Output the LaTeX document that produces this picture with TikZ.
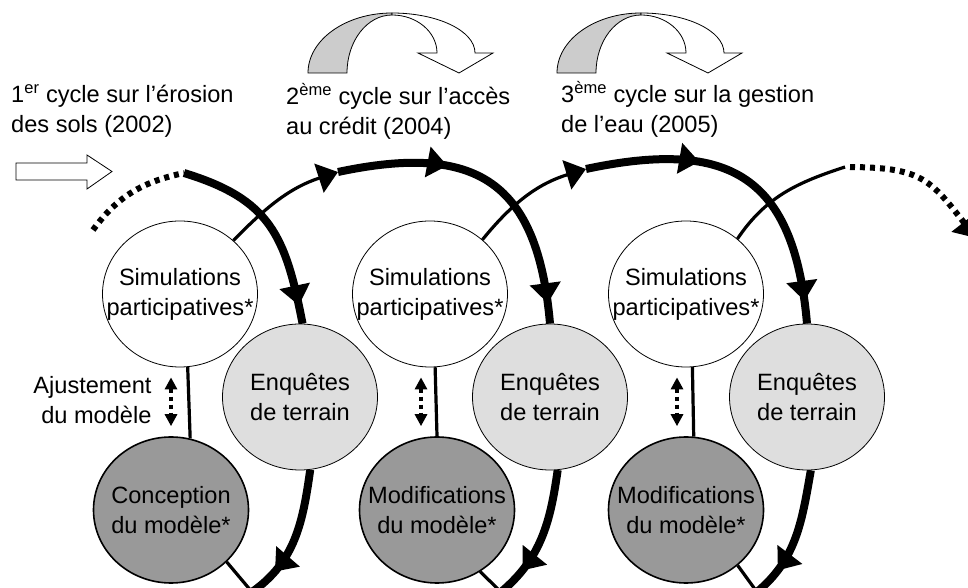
\documentclass[tikz,border=0pt]{standalone}
\usepackage{fontspec}
\setmainfont{Liberation Sans}
\usetikzlibrary{shapes.geometric, arrows.meta, decorations.markings, backgrounds}

\definecolor{enqgray}{gray}{0.87}
\definecolor{modgray}{gray}{0.6}
\definecolor{bandgray}{gray}{0.8}

\tikzset{
  bigtip/.tip={Triangle[width=30pt,length=20pt]},
  smalltip/.tip={Triangle[width=12pt,length=12pt]},
  cyclenode/.style={draw, ellipse, minimum width=155pt, minimum height=146pt, inner xsep=-20pt, inner ysep=0pt, align=center,
    execute at begin node={\rule{0pt}{26pt}}},
  simnode/.style={cyclenode, fill=white, line width=0.8pt},
  enqnode/.style={cyclenode, fill=enqgray, line width=0.8pt},
  modnode/.style={cyclenode, fill=modgray, line width=1.6pt},
  thinline/.style={line width=3.2pt},
  thickline/.style={line width=8pt},
  dotline/.style={line width=6pt, dash pattern=on 5pt off 5pt},
  adjust/.style={line width=4pt, dash pattern=on 4pt off 4pt, arrows={smalltip-smalltip}, shorten <=10pt, shorten >=10pt},
  midarrow/.style={postaction={decorate, decoration={markings, mark=at position #1 with {\arrow{bigtip}}}}},
  toplabel/.style={anchor=base west, align=left, inner sep=0pt}
}

\begin{document}
\begin{tikzpicture}[x=1pt, y=1pt, font=\fontsize{23.6}{30}\selectfont]
\useasboundingbox (0,0) rectangle (968,588);

% the three cycles
\node (sim1) [simnode] at (180,294) {Simulations\\participatives*};
\node (enq1) [enqnode] at (300,191) {Enquêtes\\de terrain};
\node (con1) [modnode] at (171,78) {Conception\\du modèle*};
\node (sim2) [simnode] at (430,294) {Simulations\\participatives*};
\node (enq2) [enqnode] at (550,191) {Enquêtes\\de terrain};
\node (mod2) [modnode] at (437,78) {Modifications\\du modèle*};
\node (sim3) [simnode] at (686,294) {Simulations\\participatives*};
\node (enq3) [enqnode] at (807,191) {Enquêtes\\de terrain};
\node (mod3) [modnode] at (686,78) {Modifications\\du modèle*};

\node (adjlabel) [anchor=east, align=right] at (155,188) {Ajustement\\du modèle};

\node (lab1) [toplabel] at (11,455) {1\textsuperscript{er} cycle sur l’érosion\\des sols (2002)};
\node (lab2) [toplabel] at (286,453) {2\textsuperscript{ème} cycle sur l’accès\\au crédit (2004)};
\node (lab3) [toplabel] at (561,455) {3\textsuperscript{ème} cycle sur la gestion\\de l’eau (2005)};

\coordinate (dot1) at (93,358);
\coordinate (top1) at (184,415);
\coordinate (top2) at (338,416);
\coordinate (top3) at (586,419);
\coordinate (top4) at (845,421);
\coordinate (end4) at (976,350);
\coordinate (bot1) at (252,-4);
\coordinate (bot2) at (501,-4);
\coordinate (bot3) at (757,-4);

\begin{scope}[on background layer]
% cycle 1
\draw[dotline] (dot1) to[out=54,in=192] (top1);
\draw[thickline, midarrow=0.91] (top1) to[out=-17,in=101,looseness=1.2] (enq1.88);
\draw[thickline, midarrow=0.78] (enq1.-82) to[out=-98,in=35] (bot1);
\draw[thinline] (con1.-43) -- (bot1);
\draw[thinline] (sim1.-84) -- (con1.75);
% cycle 2
\draw[thinline, -bigtip] (sim1.45) to[out=46,in=198] (top2);
\draw[thickline, midarrow=0.35, midarrow=0.935] (top2) to[out=12,in=95,looseness=1.4] (enq2.north);
\draw[thickline, midarrow=0.78] (enq2.-84) to[out=-98,in=40] (bot2);
\draw[thinline] (mod2.-55) -- (bot2);
\draw[thinline] (sim2.-86) -- (mod2.90);
% cycle 3
\draw[thinline, -bigtip] (sim2.46) to[out=51,in=197] (top3);
\draw[thickline, midarrow=0.35, midarrow=0.93] (top3) to[out=12,in=95,looseness=1.4] (enq3.north);
\draw[thickline, midarrow=0.78] (enq3.-87) to[out=-100,in=40] (bot3);
\draw[thinline] (mod3.-47) -- (bot3);
\draw[thinline] (sim3.-85) -- (mod3.84);
% next cycle
\draw[thinline] (sim3.47) to[out=56,in=198] (top4);
\draw[dotline, dash phase=5pt, -bigtip] (top4) to[out=0,in=128,looseness=1.3] (end4);
\end{scope}

% model adjustment
\draw[adjust] ([xshift=-9pt]sim1.south) -- ([xshift=-9pt]sim1.south |- con1.north);
\draw[adjust] ([xshift=-9pt]sim2.south) -- ([xshift=-9pt]sim2.south |- mod2.north);
\draw[adjust] ([xshift=-9pt]sim3.south) -- ([xshift=-9pt]sim3.south |- mod3.north);

% entry arrow
\draw[line width=0.8pt] (16,408) -- (87,408) -- (87,399) -- (112,416.5) -- (87,433) -- (87,425) -- (16,425) -- cycle;

% curved arrows between cycles
\foreach \dx in {0,249}{
  \begin{scope}[xshift=\dx pt]
    \filldraw[fill=bandgray, line width=0.8pt] (308,515) arc[start angle=180, end angle=90, x radius=84, y radius=60]
      -- (392,573) arc[start angle=90, end angle=180, x radius=45, y radius=58] -- cycle;
    \filldraw[fill=white, line width=0.8pt] (392,575) arc[start angle=90, end angle=0, x radius=83, y radius=40]
      -- (493,535) -- (459,515) -- (418,535) -- (437,535)
      arc[start angle=0, end angle=90, x radius=45, y radius=38] -- cycle;
  \end{scope}
}
\end{tikzpicture}
\end{document}
